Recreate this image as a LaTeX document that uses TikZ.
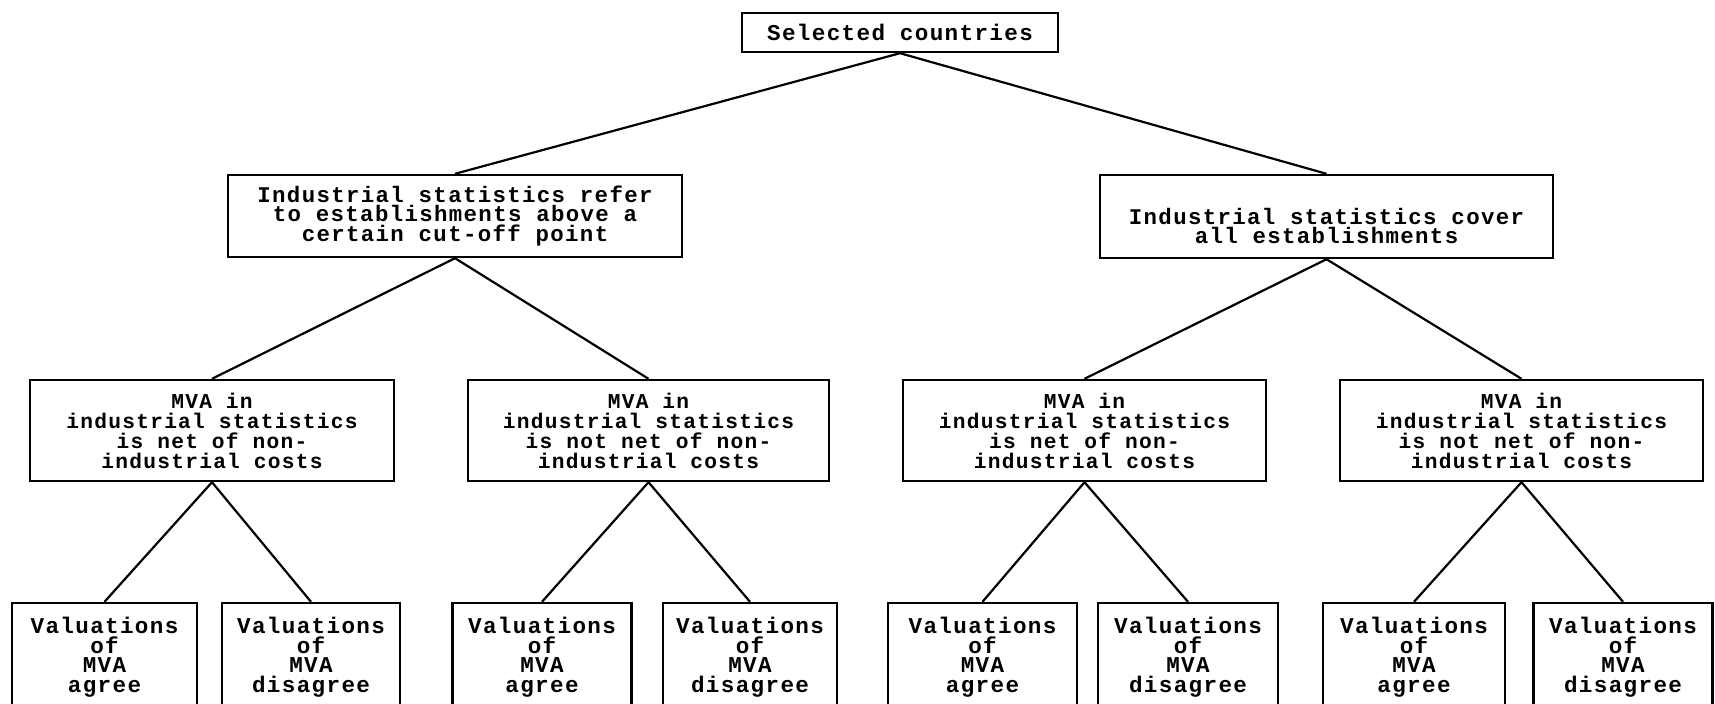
\documentclass[tikz,border=0pt]{standalone}
\usepackage{fontspec}
\newfontfamily\plotfont[LetterSpace=6]{Liberation Mono}
\tikzset{
  box/.style={draw, line width=1.2pt, rectangle, inner sep=0pt, align=center, text=black},
  txt/.style={inner sep=0pt, align=center, text=black},
  topfont/.style={font=\plotfont\bfseries\fontsize{11.3}{9.5}\selectfont},
  midfont/.style={font=\plotfont\bfseries\fontsize{11.2}{9.9}\selectfont},
  mvafont/.style={font=\plotfont\bfseries\fontsize{10.6}{10}\selectfont},
  valfont/.style={font=\plotfont\bfseries\fontsize{11.3}{9.8}\selectfont},
  link/.style={line width=1.1pt}
}
\begin{document}
\begin{tikzpicture}[x=0.5pt,y=-0.5pt]
\useasboundingbox (0,0) rectangle (1715,703);
\clip (0,0) rectangle (1715,703);
\fill[white] (0,0) rectangle (1715,703);
% level 1
\node[box, topfont, minimum width=158pt, minimum height=19.5pt] (top) at (900,32.5) {Selected countries};
% level 2
\node[box, midfont, minimum width=227pt, minimum height=41pt] (la) at (455,216) {Industrial statistics refer\\to establishments above a\\certain cut-off point};
\node[box, minimum width=226.5pt, minimum height=41.5pt] (lb) at (1326.5,216.5) {};
\node[txt, midfont] (lbtext) at (1326.5,226) {Industrial statistics cover\\all establishments};
% level 3
\node[box, mvafont, minimum width=182pt, minimum height=50.5pt] (m1) at (212,430.5) {MVA in\\industrial statistics\\is net of non-\\industrial costs};
\node[box, mvafont, minimum width=180.5pt, minimum height=50.5pt] (m2) at (648.5,430.5) {MVA in\\industrial statistics\\is not net of non-\\industrial costs};
\node[box, mvafont, minimum width=181.5pt, minimum height=50.5pt] (m3) at (1084.5,430.5) {MVA in\\industrial statistics\\is net of non-\\industrial costs};
\node[box, mvafont, minimum width=181.5pt, minimum height=50.5pt] (m4) at (1521.5,430.5) {MVA in\\industrial statistics\\is not net of non-\\industrial costs};
% level 4
\node[box, valfont, minimum width=92.5pt, minimum height=54pt] (v1) at (104.5,657) {Valuations\\of\\MVA\\agree};
\node[box, valfont, minimum width=89pt, minimum height=54pt] (v2) at (311,657) {Valuations\\of\\MVA\\disagree};
\node[box, valfont, minimum width=89.5pt, minimum height=54pt] (v3) at (542,657) {Valuations\\of\\MVA\\agree};
\node[box, valfont, minimum width=87pt, minimum height=54pt] (v4) at (750,657) {Valuations\\of\\MVA\\disagree};
\node[box, valfont, minimum width=94.5pt, minimum height=54pt] (v5) at (982.5,657) {Valuations\\of\\MVA\\agree};
\node[box, valfont, minimum width=90pt, minimum height=54pt] (v6) at (1188,657) {Valuations\\of\\MVA\\disagree};
\node[box, valfont, minimum width=91pt, minimum height=54pt] (v7) at (1414,657) {Valuations\\of\\MVA\\agree};
\node[box, valfont, minimum width=89.5pt, minimum height=54pt] (v8) at (1623,657) {Valuations\\of\\MVA\\disagree};
% connectors
\draw[link] (la.north) -- (top.south) -- (lb.north);
\draw[link] (m1.north) -- (la.south) -- (m2.north);
\draw[link] (m3.north) -- (lb.south) -- (m4.north);
\draw[link] (v1.north) -- (m1.south) -- (v2.north);
\draw[link] (v3.north) -- (m2.south) -- (v4.north);
\draw[link] (v5.north) -- (m3.south) -- (v6.north);
\draw[link] (v7.north) -- (m4.south) -- (v8.north);
\end{tikzpicture}
\end{document}
